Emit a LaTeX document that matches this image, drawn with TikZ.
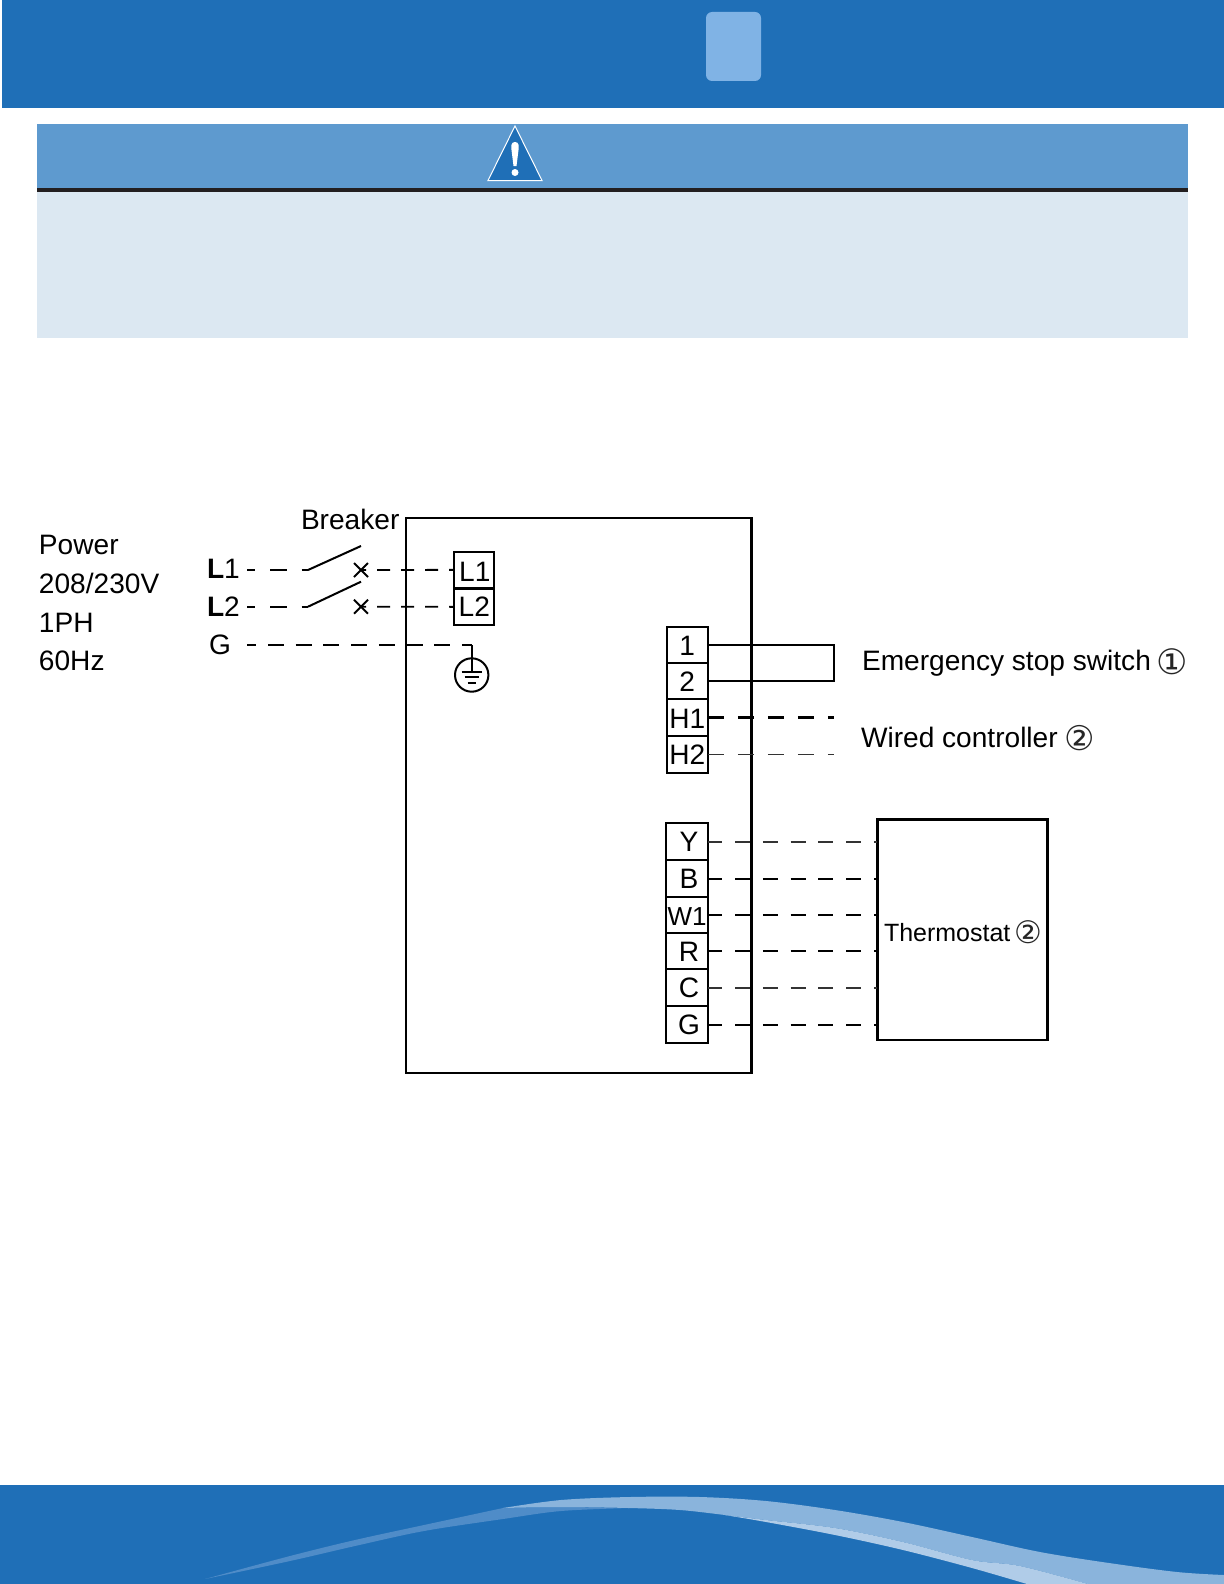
\documentclass[tikz,border=0pt]{standalone}
\usepackage{fontspec}
\setmainfont{Liberation Sans}
\newfontfamily\djv{DejaVu Sans}
\usetikzlibrary{shapes.misc}
\definecolor{hdrblue}{HTML}{1F6FB7}
\definecolor{tabblue}{HTML}{80B3E5}
\definecolor{bandblue}{HTML}{5E9ACF}
\definecolor{paleblue}{HTML}{DCE8F2}
\definecolor{darkrule}{HTML}{231F20}
\definecolor{swA}{HTML}{8AB4DC}
\definecolor{swB}{HTML}{B0CCE8}
\definecolor{swC}{HTML}{4F8CC8}
\tikzset{
  lab/.style={font=\fontsize{14.05}{16}\selectfont,inner sep=0pt,outer sep=0pt,anchor=base west},
  term/.style={draw,line width=1pt,inner sep=0pt,outer sep=0pt,minimum width=20.5pt,minimum height=18.2pt,text height=9.9pt,text depth=0pt,font=\fontsize{14.05}{16}\selectfont},
  wire/.style={line width=1pt,black},
  thin wire/.style={line width=0.85pt,black!80},
  tstat/.style={dash pattern=on 7.5pt off 6.4pt,dash phase=0.4pt},
  hctl/.style={dash pattern=on 8pt off 7pt},
  feed/.style={line width=0.9pt,dash pattern=on 8.25pt off 7.5pt,dash phase=4.25pt},
  load/.style={line width=0.9pt,dash pattern=on 6.5pt off 5.5pt,dash phase=4pt},
  gfeed/.style={line width=0.9pt,dash pattern=on 8pt off 5.85pt,dash phase=3.35pt},
  xmark/.style={cross out,draw,line width=1pt,inner sep=0pt,outer sep=0pt,minimum size=7pt},
  box/.style={draw,line width=1.2pt,inner sep=0pt,outer sep=0pt},
  circnum/.style={inner sep=0pt,text=black!85}
}
\begin{document}
\begin{tikzpicture}[x=0.5pt,y=-0.5pt]
\useasboundingbox (0,0) rectangle (1224,1584);
% header
\fill[hdrblue] (2,0) rectangle (1224,108);
\fill[tabblue,rounded corners=3pt] (706,12) rectangle (761,81);
% warning panel
\fill[bandblue] (36.5,124) rectangle (1188,188);
\fill[darkrule] (36.5,188) rectangle (1188,192);
\fill[paleblue] (37,192) rectangle (1188,338);
\filldraw[hdrblue,draw=white,line width=0.5pt] (515,126) -- (542,180.5) -- (488,180.5) -- cycle;
\fill[white] (515,142) .. controls (519,142) and (519,146) .. (518.5,150) -- (516.5,166) -- (513.5,166) -- (511.5,150) .. controls (511,146) and (511,142) .. (515,142) -- cycle;
\fill[white] (515,172.5) ellipse (3.5 and 3.5);
% footer
\fill[hdrblue] (0,1485) rectangle (1224,1584);
\fill[swC] plot[smooth,tension=0.55] coordinates {(205,1579) (290,1556) (355,1540) (424,1525) (503,1508)}
  -- plot[smooth,tension=0.55] coordinates {(503,1508) (561,1507) (629,1508)}
  -- plot[smooth,tension=0.55] coordinates {(629,1508) (561,1511) (503,1519) (424,1531) (355,1546) (290,1561) (205,1579)} -- cycle;
\fill[swA] plot[smooth,tension=0.55] coordinates {(503,1508) (561,1500) (630,1497) (700,1497) (766,1501) (835,1510) (903,1522) (972,1537) (1040,1552) (1109,1563) (1177,1572) (1224,1575)}
  -- (1224,1584) -- (1088,1584)
  -- plot[smooth,tension=0.55] coordinates {(1088,1584) (1020,1566) (972,1560) (903,1542) (835,1528) (766,1520) (725,1515) (680,1510) (629,1508) (561,1507) (503,1508)} -- cycle;
\fill[swB] plot[smooth,tension=0.55] coordinates {(725,1515) (766,1520) (835,1528) (903,1542) (972,1560) (1020,1566) (1088,1584)}
  -- (1027,1584)
  -- plot[smooth,tension=0.55] coordinates {(1027,1584) (972,1568) (903,1550) (835,1535) (766,1522) (725,1515)} -- cycle;
% main enclosure
\node[box,minimum width=172.8pt,minimum height=277.35pt] (main) at (578.5,795.4) {};
% power text
\node[lab] (pw1) at (39,554) {Power};
\node[lab] (pw2) at (39,593) {208/230V};
\node[lab] (pw3) at (39,632) {1PH};
\node[lab] (pw4) at (39,670) {60Hz};
\node[lab] (brk) at (301,529) {Breaker};
\node[lab] (inL1) at (207,578) {\textbf{L}1};
\node[lab] (inL2) at (207,616) {\textbf{L}2};
\node[lab] (inG) at (209,654) {G};
% supply terminals
\node[term,minimum width=19.75pt,text height=11.9pt] (tL1) at (473.75,569.85) {\hspace*{1pt}L1};
\node[term,minimum width=19.75pt] (tL2) at (473.75,606.85) {\hspace*{0.5pt}L2};
% breaker
\coordinate (s1a) at (308,570);
\coordinate (s1b) at (361,546);
\coordinate (s2a) at (308,606.7);
\coordinate (s2b) at (361,581.7);
\coordinate (f1) at (247,570);
\coordinate (f2) at (247,606.7);
\node[xmark] (x1) at (361,570) {};
\node[xmark] (x2) at (361,606.7) {};
\draw[wire,feed] (f1) -- (s1a);
\draw[wire,feed] (f2) -- (s2a);
\draw[line width=1pt] (s1a) -- (s1b);
\draw[line width=1pt] (s2a) -- (s2b);
\draw[load] (x1.center) -- (tL1.west);
\draw[load] (x2.center) -- (tL2.west);
% ground
\node[draw,circle,line width=1pt,inner sep=0pt,outer sep=0pt,minimum size=16.7pt] (gnd) at (471.7,675) {};
\coordinate (gs) at (247,645);
\coordinate (ge) at (471.7,645);
\coordinate (gb) at (471.7,672);
\draw[gfeed] (gs) -- (ge);
\draw[line width=1pt] (ge) -- (gb);
\draw[line width=1pt] (461.7,672) -- (481.7,672);
\draw[line width=1pt] (464.7,677) -- (478.7,677);
\draw[line width=1pt] (467.7,683) -- (475.7,683);
% upper block
\node[term,text height=10.9pt] (t1) at (687.25,644.85) {1};
\node[term,text height=10.9pt] (t2) at (687.25,681) {2};
\node[term,text height=10.9pt] (tH1) at (687.25,717.5) {H1};
\node[term] (tH2) at (687.25,754.35) {H2};
\coordinate (sw1) at (834,644.85);
\coordinate (sw2) at (834,681);
\coordinate (hc1) at (834,717.5);
\coordinate (hc2) at (834,754.35);
\draw[wire,line width=1.1pt] (t1.east) -- (sw1) -- (sw2) -- (t2.east);
\draw[wire,line width=1.2pt,hctl] (tH1.east) -- (hc1);
\draw[thin wire,hctl] (tH2.east) -- (hc2);
\node[lab] (esw) at (862,670.7) {Emergency stop switch};
\node[circnum,font=\djv\fontsize{17.5}{18}\selectfont] (c1) at (1172.5,662) {①};
\node[lab] (wc) at (861,747) {Wired controller};
\node[circnum,font=\djv\fontsize{17}{18}\selectfont] (c2) at (1080,738) {②};
% thermostat
\node[box,line width=1.25pt,minimum width=85pt,minimum height=110.35pt] (thermo) at (962.3,929.65) {};
\node[lab,font=\fontsize{12.5}{14}\selectfont] (thl) at (884,941.7) {Thermostat};
\node[circnum,font=\djv\fontsize{15.5}{16}\selectfont] (c3) at (1028,932.5) {②};
% lower block
\node[term,minimum width=21pt] (tY) at (687,841.65) {\hspace*{2pt}Y};
\node[term,minimum width=21pt] (tB) at (687,878.65) {\hspace*{2pt}B};
\node[term,minimum width=21pt,text height=10.5pt,font=\fontsize{13}{16}\selectfont] (tW) at (687,915) {W1};
\node[term,minimum width=21pt,text height=10.7pt] (tR) at (687,951) {\hspace*{2pt}R};
\node[term,minimum width=21pt] (tC) at (687,987.65) {\hspace*{2pt}C};
\node[term,minimum width=21pt] (tG) at (687,1024.65) {\hspace*{2pt}G};
\draw[thin wire,tstat] (tY.east) -- (thermo.west |- tY.east);
\draw[wire,tstat] (tB.east) -- (thermo.west |- tB.east);
\draw[wire,tstat] (tW.east) -- (thermo.west |- tW.east);
\draw[wire,tstat] (tR.east) -- (thermo.west |- tR.east);
\draw[thin wire,tstat] (tC.east) -- (thermo.west |- tC.east);
\draw[wire,tstat] (tG.east) -- (thermo.west |- tG.east);
\end{tikzpicture}
\end{document}
